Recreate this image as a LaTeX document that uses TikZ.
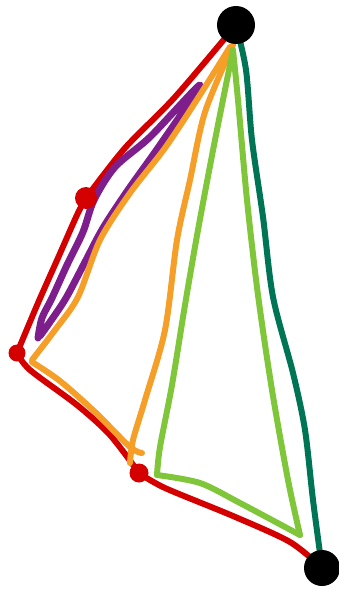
\documentclass[tikz,border=0pt]{standalone}
\usepackage{tikz}
\usetikzlibrary{backgrounds}

\definecolor{inkred}{RGB}{212,0,0}
\definecolor{inkpurple}{RGB}{125,30,140}
\definecolor{inkorange}{RGB}{245,158,40}
\definecolor{inklime}{RGB}{128,198,58}
\definecolor{inkteal}{RGB}{0,117,85}

\begin{document}
\begin{tikzpicture}[
        x=1pt, y=-1pt,
        % Define a uniform style for the dots
        blob/.style={
            circle,
            fill=black,
            inner sep=0pt,
            minimum size=38pt
        },
        reddot/.style={
            circle,
            fill=inkred,
            inner sep=0pt,
            minimum size=19pt
        },
        stroke/.style={
            line width=6pt,
            line cap=round,
            line join=round
        }
    ]

    \useasboundingbox (0,0) rectangle (338,589);

    % Draw the Nodes
    \node (topdot) [blob] at (236,25) {};
    \node (botdot) [blob, minimum size=36pt] at (322,568) {};
    \node (redA) [reddot, minimum size=22pt] at (86,198) {};
    \node (redB) [reddot, minimum size=17pt] at (17,353) {};
    \node (redC) [reddot] at (139,473) {};

    % Draw the strokes
    \begin{scope}[on background layer]
    % red chain
    \draw [stroke, inkred] plot[smooth] coordinates {(topdot) (175,97) (125,148) (redA)};
    \draw [stroke, inkred] plot[smooth] coordinates {(redA) (77,215) (58,258) (38,303) (redB)};
    \draw [stroke, inkred] plot[smooth] coordinates {(redB) (30,370) (77,405) (110,435) (redC)};
    \draw [stroke, inkred] plot[smooth] coordinates {(redC) (165,488) (233,516) (290,542) (botdot)};

    % purple loop
    \draw [stroke, line width=7pt, inkpurple] plot[smooth] coordinates {(38,338) (42,318) (52,298) (67,265) (83,232) (94,200) (115,167) (150,137) (200,85) (160,145) (128,190) (103,228) (85,262) (66,298) (50,322) (40,336)};

    % orange
    \draw [stroke, inkorange] plot[smooth] coordinates {(230,47) (198,98) (165,148) (130,193) (100,240) (78,297) (55,330) (32,360)};
    \draw [stroke, inkorange] plot[smooth] coordinates {(32,362) (60,381) (95,412) (130,447) (142,453)};
    \draw [stroke, inkorange] plot[smooth] coordinates {(233,45) (205,112) (190,180) (177,240) (165,330) (145,400) (133,440) (130,463)};

    % light green triangle
    \draw [stroke, inklime] plot[smooth] coordinates {(233,50) (215,140) (198,230) (185,305) (172,385) (160,447) (157,475)};
    \draw [stroke, inklime] plot[smooth] coordinates {(157,475) (200,483) (240,503) (300,535)};
    \draw [stroke, inklime] plot[smooth] coordinates {(300,535) (288,480) (272,390) (258,295) (247,200) (238,100) (233,50)};

    % dark green
    \draw [stroke, inkteal] plot[smooth] coordinates {(topdot) (246,70) (252,140) (263,217) (273,297) (293,373) (305,430) (313,500) (botdot)};
    \end{scope}

    \end{tikzpicture}
\end{document}
